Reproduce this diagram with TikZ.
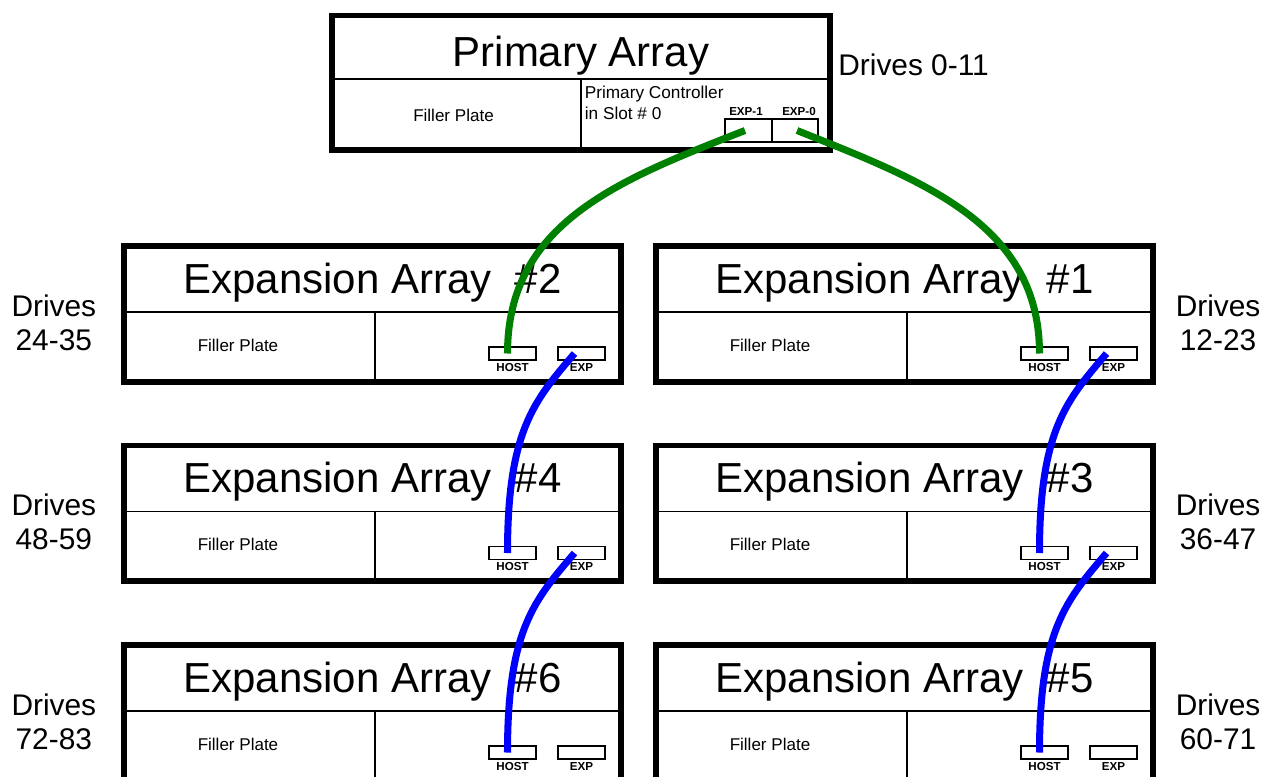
\documentclass[tikz,border=0pt]{standalone}
\usepackage{fontspec}
\setmainfont{Liberation Sans}
\usetikzlibrary{positioning}
\definecolor{cable green}{RGB}{0,128,0}
\tikzset{array box/.style={draw,line width=3.4pt,minimum width=9.94cm,minimum height=2.72cm,inner sep=0pt,outer sep=0pt,anchor=north west},
  divider/.style={line width=1.1pt},
  port/.style={draw,line width=1.1pt,minimum width=0.94cm,minimum height=0.26cm,inner sep=0pt,outer sep=0pt},
  port label/.style={font=\bfseries\fontsize{6.6}{7}\selectfont,inner sep=0pt,anchor=base},
  title/.style={font=\fontsize{23.9}{28}\selectfont,inner sep=0pt,anchor=base},
  filler/.style={font=\fontsize{9.7}{11}\selectfont,inner sep=0pt,anchor=base},
  drives/.style={font=\fontsize{17}{19.35}\selectfont,align=center,inner sep=0pt},
  cable/.style={line width=4pt},
  exp array/.pic={
    \node[array box] (-box) at (0,0) {};
    \draw[divider] (0,66) -- (497,66);
    \draw[divider] (251,66) -- (251,136);
    \node[title] (-title) at (248.5,47) {Expansion Array~~\##1};
    \node[filler] (-filler) at (114,105) {Filler Plate};
    \node[port] (-host) at (388.5,107.5) {};
    \node[port] (-exp) at (457.5,107.5) {};
    \node[port label] (-hostlabel) at (388.5,125) {HOST};
    \node[port label] (-explabel) at (457.5,125) {EXP};
  }
}

\begin{document}
\begin{tikzpicture}[x=0.02cm,y=-0.02cm]
  \useasboundingbox (0,0) rectangle (1275,777);
  \clip (0,0) rectangle (1275,777);

  % primary array
  \node[array box,minimum width=9.96cm,minimum height=2.69cm] (prim) at (332,15.5) {};
  \draw[divider] (332,79) -- (830,79);
  \draw[divider] (581,79) -- (581,150);
  \node[title] (primtitle) at (581,67) {Primary Array};
  \node[filler] (primfiller) at (453.5,122) {Filler Plate};
  \node[filler,anchor=base west,font=\fontsize{9.8}{11}\selectfont] (ctrl) at (584.5,99) {Primary Controller};
  \node[filler,anchor=base west,font=\fontsize{9.8}{11}\selectfont] (slot) at (584.5,120) {in Slot \# 0};
  \node[port,minimum height=0.46cm] (exp1) at (748.5,130.5) {};
  \node[port,minimum width=0.92cm,minimum height=0.46cm] (exp0) at (795,130.5) {};
  \node[port label] (exp1label) at (746,115) {EXP-1};
  \node[port label] (exp0label) at (799,115) {EXP-0};
  \node[drives,anchor=west] (d0) at (838,65) {Drives 0-11};

  % expansion arrays
  \pic (a2) at (124,246) {exp array=2};
  \pic (a1) at (656,246) {exp array=1};
  \pic (a4) at (124,445.5) {exp array=4};
  \pic (a3) at (656,445.5) {exp array=3};
  \pic (a6) at (124,645) {exp array=6};
  \pic (a5) at (656,645) {exp array=5};

  \node[drives,left=0.55cm of a2-box,yshift=-0.17cm] (d2) {Drives\\24-35};
  \node[drives,left=0.55cm of a4-box,yshift=-0.17cm] (d4) {Drives\\48-59};
  \node[drives,left=0.55cm of a6-box,yshift=-0.17cm] (d6) {Drives\\72-83};
  \node[drives,right=0.45cm of a1-box,yshift=-0.17cm] (d1) {Drives\\12-23};
  \node[drives,right=0.45cm of a3-box,yshift=-0.17cm] (d3) {Drives\\36-47};
  \node[drives,right=0.45cm of a5-box,yshift=-0.17cm] (d5) {Drives\\60-71};

  % cables
  \draw[cable,cable green] ([xshift=-0.07cm]exp1.center) .. controls +(-128,50) and +(0,-130) .. ([xshift=-0.1cm]a2-host.center);
  \draw[cable,cable green] ([xshift=0.04cm]exp0.center) .. controls +(125,50) and +(0,-130) .. ([xshift=-0.1cm]a1-host.center);
  \draw[cable,blue] ([xshift=-0.14cm]a2-exp.center) .. controls +(-40,47) and +(0,-123) .. ([xshift=-0.1cm]a4-host.center);
  \draw[cable,blue] ([xshift=-0.14cm]a4-exp.center) .. controls +(-40,47) and +(0,-123) .. ([xshift=-0.1cm]a6-host.center);
  \draw[cable,blue] ([xshift=-0.14cm]a1-exp.center) .. controls +(-40,47) and +(0,-123) .. ([xshift=-0.1cm]a3-host.center);
  \draw[cable,blue] ([xshift=-0.14cm]a3-exp.center) .. controls +(-40,47) and +(0,-123) .. ([xshift=-0.1cm]a5-host.center);
\end{tikzpicture}
\end{document}
